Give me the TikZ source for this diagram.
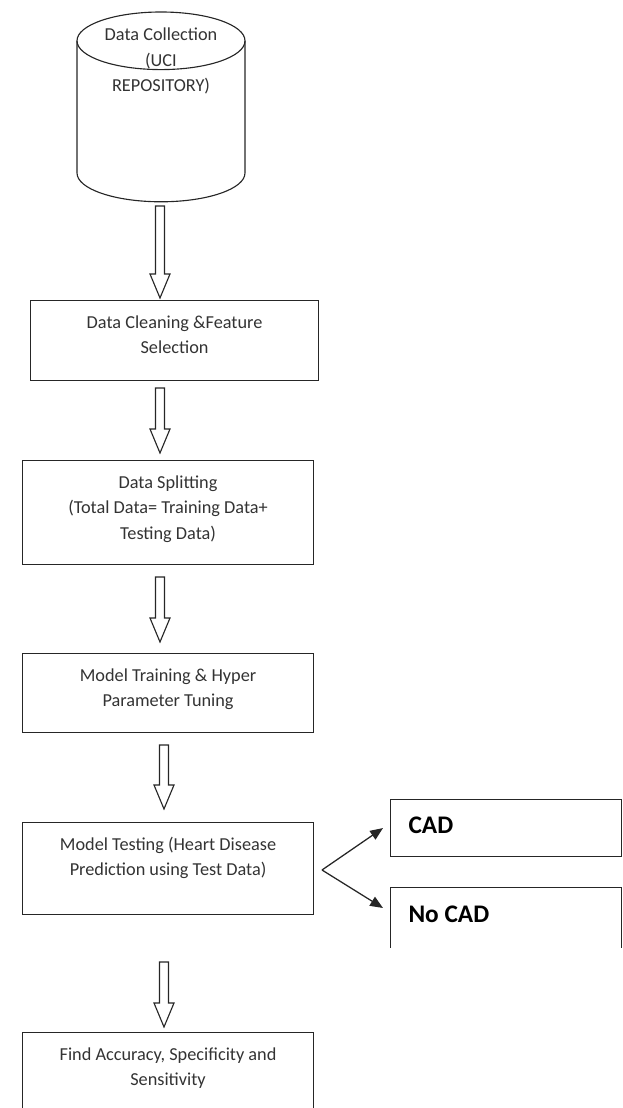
\documentclass[tikz,border=0pt]{standalone}
\usepackage{fontspec}
\setmainfont{Carlito}
\usetikzlibrary{arrows.meta}

\tikzset{
  caixa/.style={draw=black!85, line width=0.8pt, inner sep=0pt, anchor=north west, text=black!80, font=\fontsize{13}{18}\selectfont},
  saida/.style={draw=black!85, line width=0.8pt, inner xsep=0.45cm, inner ysep=0pt, anchor=north west, font=\bfseries\fontsize{18}{21}\selectfont},
  seta/.style={draw=black!85, line width=0.8pt},
  fina/.style={draw=black!85, line width=0.9pt, -{Triangle[length=0.32cm,width=0.26cm]}}
}

\begin{document}
\begin{tikzpicture}[scale=1]
\useasboundingbox (0,0) rectangle (15.55,27.7);
\clip (0,0) rectangle (15.55,27.7);
% cilindro (coleta de dados)
\draw[seta] (1.925,26.68) -- (1.925,23.375) arc[start angle=180, end angle=360, x radius=2.1, y radius=0.72] -- (6.125,26.68);
\draw[seta] (4.025,26.68) ellipse [x radius=2.1, y radius=0.72];
\node[text=black!80, font=\fontsize{13}{18}\selectfont, align=center] (colecao) at (4.025,26.17) {Data Collection\\(UCI\\REPOSITORY)};
% seta 1
\draw[seta] (3.8875,22.55) -- (4.1125,22.55) -- (4.1125,20.85) -- (4.25,20.85) -- (4.0,20.25) -- (3.75,20.85) -- (3.8875,20.85) -- cycle;
% caixa 1
\node[caixa] (limpeza) at (0.75,20.2) {\parbox[c][2cm][t]{7.2cm}{\centering\rule{0pt}{0.7cm}Data Cleaning \&Feature\\Selection}};
% seta 2
\draw[seta] (3.8875,18.0) -- (4.1125,18.0) -- (4.1125,16.975) -- (4.25,16.975) -- (4.0,16.375) -- (3.75,16.975) -- (3.8875,16.975) -- cycle;
% caixa 2
\node[caixa] (divisao) at (0.55,16.2) {\parbox[c][2.6cm][t]{7.275cm}{\centering\rule{0pt}{0.7cm}Data Splitting\\(Total Data= Training Data+\\Testing Data)}};
% seta 3
\draw[seta] (3.8875,13.275) -- (4.1125,13.275) -- (4.1125,12.25) -- (4.25,12.25) -- (4.0,11.65) -- (3.75,12.25) -- (3.8875,12.25) -- cycle;
% caixa 3
\node[caixa] (treino) at (0.55,11.375) {\parbox[c][1.975cm][t]{7.275cm}{\centering\rule{0pt}{0.7cm}Model Training \& Hyper\\Parameter Tuning}};
% seta 4
\draw[seta] (3.9875,9.075) -- (4.2125,9.075) -- (4.2125,8.075) -- (4.35,8.075) -- (4.1,7.475) -- (3.85,8.075) -- (3.9875,8.075) -- cycle;
% caixa 4
\node[caixa] (teste) at (0.55,7.15) {\parbox[c][2.3cm][t]{7.275cm}{\centering\rule{0pt}{0.7cm}Model Testing (Heart Disease\\Prediction using Test Data)}};
% saidas
\node[saida] (cad) at (9.75,7.725) {\parbox[c][1.425cm][t]{4.875cm}{\rule{0pt}{0.86cm}CAD}};
\begin{scope}
\clip (9.5,4.0) rectangle (15.55,5.7);
\node[saida] (semcad) at (9.75,5.525) {\parbox[c][2cm][t]{4.875cm}{\rule{0pt}{0.88cm}No CAD}};
\end{scope}
\coordinate (ramo) at (8.05,5.95);
\draw[fina] (ramo) -- ([xshift=-0.175cm]cad.west);
\draw[fina] (ramo) -- ([xshift=-0.175cm,yshift=-0.525cm]semcad.north west);
% seta 5
\draw[seta] (3.9875,3.65) -- (4.2125,3.65) -- (4.2125,2.625) -- (4.35,2.625) -- (4.1,2.025) -- (3.85,2.625) -- (3.9875,2.625) -- cycle;
% caixa 5
\node[caixa] (avaliacao) at (0.55,1.9) {\parbox[c][2.6cm][t]{7.275cm}{\centering\rule{0pt}{0.7cm}Find Accuracy, Specificity and\\Sensitivity}};
\end{tikzpicture}
\end{document}
